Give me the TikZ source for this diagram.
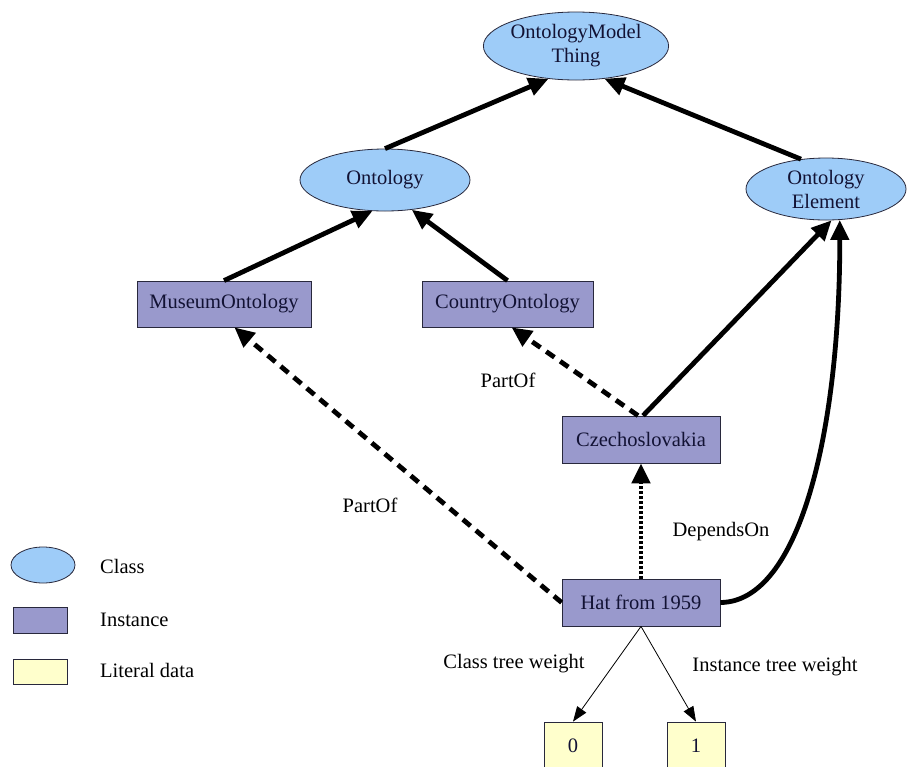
\documentclass[tikz,border=0pt]{standalone}
\usepackage{fontspec}
\setmainfont{Liberation Serif}
\usetikzlibrary{arrows.meta,shapes.geometric}

\definecolor{clsfill}{RGB}{158,204,248}
\definecolor{instfill}{RGB}{153,153,204}
\definecolor{litfill}{RGB}{255,255,204}
\definecolor{inktext}{RGB}{18,18,52}
\definecolor{edgeline}{RGB}{40,40,60}

\newcommand{\lblfont}{\fontsize{20.5}{24}\selectfont}

\tikzset{
  cls/.style={ellipse, draw=edgeline, line width=0.8pt, fill=clsfill, inner sep=0pt,
              align=center, font=\lblfont, text=inktext},
  inst/.style={rectangle, draw=edgeline, line width=0.8pt, fill=instfill, inner sep=0pt,
               font=\lblfont, text=inktext, minimum width=158pt, minimum height=47pt},
  lit/.style={rectangle, draw=edgeline, line width=0.8pt, fill=litfill, inner sep=0pt,
              font=\lblfont, text=inktext},
  lbl/.style={font=\lblfont, text=black, inner sep=0pt},
  isa/.style={line width=4.8pt, -{Triangle[length=20pt,width=18pt]}},
  partof/.style={isa, dash pattern=on 10pt off 7pt},
  depends/.style={isa, dash pattern=on 3pt off 2pt},
  weight/.style={line width=0.8pt, -{Triangle[length=15pt,width=11pt]}}
}

\begin{document}
\begin{tikzpicture}[x=1pt,y=-1pt]
\useasboundingbox[fill=white] (0,0) rectangle (915,766);

% class hierarchy
\node[cls, minimum width=182pt, minimum height=68pt] (omt) at (576,46) {OntologyModel\\Thing};
\node[cls, minimum width=170pt, minimum height=62pt] (ont) at (385,180) {Ontology};
\node[cls, minimum width=160pt, minimum height=62pt] (oe) at (826,189) {Ontology\\Element};

% instances
\node[inst, minimum width=174pt, minimum height=46pt] (museum) at (224,304) {MuseumOntology};
\node[inst, minimum width=171pt, minimum height=46pt] (country) at (507.5,304) {CountryOntology};
\node[inst] (czech) at (641,439.5) {Czechoslovakia};
\node[inst] (hat) at (641,602.5) {Hat from 1959};

% literal values
\node[lit, minimum width=58pt, minimum height=48pt] (zero) at (573,746) {0};
\node[lit, minimum width=58pt, minimum height=48pt] (one) at (696,746) {1};

% subclass / type links
\draw[isa] (ont.north) -- (omt.-130);
\draw[isa] (oe.130) -- (omt.-49);
\draw[isa] (museum.north) -- (ont.-112);
\draw[isa] (country.north) -- (ont.-48);
\draw[isa] (czech.85) -- (oe.-80);
\draw[isa] (hat.east) .. controls (800,602) and (840,430) .. (oe.-66);

% relations between instances
\draw[partof] (hat.west) -- (museum.-66);
\draw[partof] (czech.97) -- (country.-80);
\draw[depends] (hat.north) -- (czech.south);

% tree weights
\draw[weight] (hat.south) -- (zero.north);
\draw[weight] (hat.south) -- (one.north);

% edge labels
\node[lbl] (lpart1) at (508,380) {PartOf};
\node[lbl] (lpart2) at (370,505) {PartOf};
\node[lbl] (ldep) at (721,532) {DependsOn};
\node[lbl] (lcw) at (514,664) {Class tree weight};
\node[lbl] (liw) at (775,667) {Instance tree weight};

% legend
\node[cls, minimum width=64pt, minimum height=36pt] (legcls) at (43,565) {};
\node[inst, minimum width=54pt, minimum height=26pt] (leginst) at (40,620) {};
\node[lit, minimum width=54pt, minimum height=25pt] (leglit) at (40,671.5) {};
\node[lbl, anchor=west] (legclst) at (100,566) {Class};
\node[lbl, anchor=west] (leginstt) at (100,620) {Instance};
\node[lbl, anchor=west] (leglitt) at (100,670) {Literal data};
\end{tikzpicture}
\end{document}
